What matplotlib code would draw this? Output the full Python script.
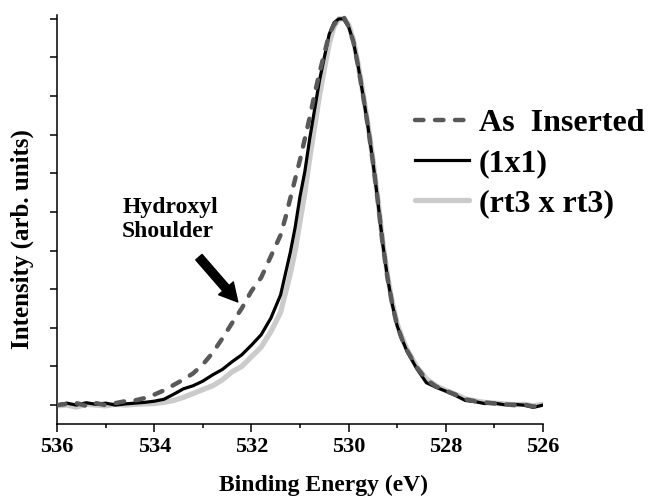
import matplotlib
matplotlib.use("Agg")
import matplotlib.pyplot as plt
from matplotlib.ticker import MultipleLocator, NullFormatter

plt.rcParams['font.family'] = ['Liberation Serif', 'DejaVu Serif']
plt.rcParams['font.weight'] = 'bold'

binding_energy = [536.0, 535.8, 535.6, 535.4, 535.2, 535.0, 534.8, 534.6, 534.4, 534.2,
                  534.0, 533.8, 533.6, 533.4, 533.2, 533.0, 532.8, 532.6, 532.4, 532.2,
                  532.0, 531.8, 531.6, 531.4, 531.3, 531.2, 531.1, 531.0, 530.9, 530.8,
                  530.7, 530.6, 530.5, 530.4, 530.3, 530.2, 530.1, 530.0, 529.9, 529.8,
                  529.7, 529.6, 529.5, 529.4, 529.3, 529.2, 529.1, 529.0, 528.9, 528.8,
                  528.6, 528.4, 528.2, 528.0, 527.8, 527.6, 527.4, 527.2, 527.0, 526.8,
                  526.6, 526.4, 526.2, 526.0]

as_inserted = [0.0, 0.03, 0.05, -0.02, 0.05, 0.0, 0.05, 0.10, 0.12, 0.18,
               0.27, 0.38, 0.52, 0.66, 0.82, 1.05, 1.35, 1.72, 2.12, 2.50,
               2.95, 3.30, 3.85, 4.40, 4.85, 5.35, 5.85, 6.35, 6.90, 7.45,
               8.05, 8.60, 9.10, 9.60, 9.85, 10.0, 10.05, 9.80, 9.40, 8.75,
               8.00, 7.20, 6.30, 5.30, 4.20, 3.30, 2.60, 2.05, 1.70, 1.42,
               0.98, 0.66, 0.48, 0.37, 0.27, 0.15, 0.10, 0.07, 0.04, 0.02,
               0.0, 0.02, -0.04, 0.02]

one_by_one = [0.0, 0.05, 0.0, 0.06, 0.02, 0.05, 0.0, 0.03, 0.05, 0.07,
              0.10, 0.15, 0.28, 0.42, 0.50, 0.62, 0.78, 0.92, 1.12, 1.30,
              1.55, 1.82, 2.25, 2.85, 3.40, 3.95, 4.60, 5.40, 6.05, 6.90,
              7.65, 8.40, 9.00, 9.60, 9.90, 10.0, 10.0, 9.80, 9.40, 8.75,
              8.00, 7.20, 6.30, 5.30, 4.20, 3.30, 2.60, 2.05, 1.70, 1.40,
              0.95, 0.58, 0.46, 0.36, 0.25, 0.12, 0.09, 0.04, 0.05, 0.01,
              0.02, 0.0, -0.06, 0.0]

rt3 = [-0.02, 0.0, -0.05, 0.02, 0.0, -0.02, 0.02, 0.0, 0.02, 0.03,
       0.04, 0.07, 0.12, 0.20, 0.30, 0.40, 0.50, 0.65, 0.86, 1.00,
       1.25, 1.50, 1.90, 2.40, 2.90, 3.40, 4.00, 4.75, 5.50, 6.40,
       7.20, 8.00, 8.70, 9.35, 9.80, 10.0, 10.0, 9.85, 9.45, 8.80,
       8.05, 7.25, 6.35, 5.35, 4.25, 3.35, 2.65, 2.10, 1.75, 1.45,
       1.00, 0.68, 0.50, 0.38, 0.28, 0.16, 0.11, 0.07, 0.05, 0.03,
       0.01, 0.02, -0.02, 0.02]

series_labels = ['As  Inserted', '(1x1)', '(rt3 x rt3)']
x_ticks = [536, 534, 532, 530, 528, 526]

fig = plt.figure(figsize=(6.52, 4.97), dpi=100)
ax = fig.add_axes([57/652, 1 - 424/497, 486/652, 409/497])

l_rt3, = ax.plot(binding_energy, rt3, color='#cbcbcb', lw=3.8, solid_capstyle='round', zorder=2)
l_11, = ax.plot(binding_energy, one_by_one, color='black', lw=2.3, zorder=3)
l_as, = ax.plot(binding_energy, as_inserted, color='#595959', lw=3.2,
                linestyle=(0, (1.9, 2.6)), dash_capstyle='round', zorder=4)

ax.set_xlim(536, 526)
ax.set_ylim(-0.49, 10.1)
ax.set_xticks(x_ticks)
ax.set_xticklabels([str(t) for t in x_ticks], fontsize=16, fontweight='bold')
ax.xaxis.set_minor_locator(MultipleLocator(1))
ax.yaxis.set_major_locator(MultipleLocator(1))
ax.yaxis.set_major_formatter(NullFormatter())
ax.tick_params(axis='x', which='major', direction='out', length=6, width=1.1, pad=3)
ax.tick_params(axis='x', which='minor', direction='out', length=3, width=1.1)
ax.tick_params(axis='y', which='major', direction='out', length=5, width=1.1)

for s in ['top', 'right']:
    ax.spines[s].set_visible(False)
for s in ['left', 'bottom']:
    ax.spines[s].set_linewidth(1.1)

ax.set_xlabel('Binding Energy (eV)', fontsize=17, fontweight='bold')
ax.xaxis.set_label_coords(0.549, -0.125)
ax.set_ylabel('Intensity (arb. units)', fontsize=18, fontweight='bold')
ax.yaxis.set_label_coords(-0.047, 0.452)

ax.text(534.66, 5.38, 'Hydroxyl\nShoulder', fontsize=17, fontweight='bold',
        ha='left', va='top', linespacing=1.2)
ax.annotate('', xy=(532.28, 2.67), xytext=(533.08, 3.83),
            arrowprops=dict(arrowstyle='simple,head_width=1.4,head_length=1.3,tail_width=0.6',
                            color='black', shrinkA=0, shrinkB=0))

leg = ax.legend([l_as, l_11, l_rt3], series_labels, loc='upper left',
                bbox_to_anchor=(415/652, 1 - 109/497), bbox_transform=fig.transFigure,
                frameon=False, prop={'weight': 'bold', 'size': 23},
                handlelength=1.7, handletextpad=0.3, labelspacing=0.33,
                borderpad=0, borderaxespad=0)

fig.savefig('out.png', dpi=100)
